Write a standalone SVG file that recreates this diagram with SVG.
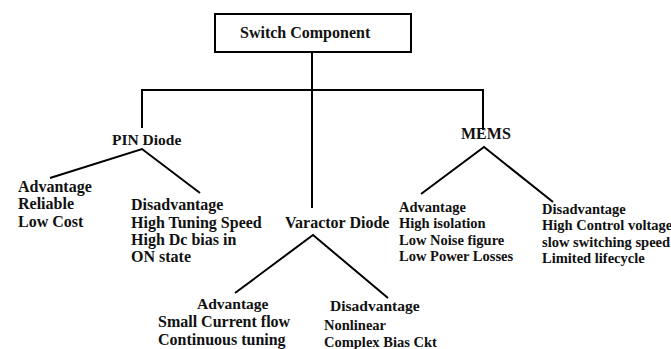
<svg xmlns="http://www.w3.org/2000/svg" width="671" height="349" viewBox="0 0 671 349">
<style>
text{font-family:"Liberation Serif","Times New Roman",serif;font-weight:bold;font-size:16px;fill:#111}
.s{font-size:14.5px}
.m{font-size:15.5px}
.c line,.c polyline{stroke:#000;stroke-width:2;fill:none}
.b{fill:#fff;stroke:#000;stroke-width:2}
</style>
<rect width="671" height="349" fill="#fff"/>
<g class="c" id="connectors">
<line x1="312" y1="52" x2="312" y2="208"/>
<polyline points="142,128 142,90 483,90 483,130"/>
<polyline points="50,178 142,149 200,193"/>
<polyline points="421,194 484,147 553,202"/>
<polyline points="235,293 313,235 388,298"/>
</g>
<g id="root"><rect class="b" x="215" y="14" width="196" height="38"/><text x="240" y="38">Switch Component</text></g>
<g id="pin"><text class="m" x="112" y="145">PIN Diode</text></g>
<g id="mems"><text x="461" y="139">MEMS</text></g>
<g id="varactor"><text x="285" y="228">Varactor Diode</text></g>
<g id="pin-adv"><text x="18" y="192">Advantage</text><text x="18" y="209">Reliable</text><text x="18" y="227">Low Cost</text></g>
<g id="pin-dis"><text x="131" y="210">Disadvantage</text><text x="131" y="228">High Tuning Speed</text><text x="131" y="245">High Dc bias in</text><text x="131" y="262">ON state</text></g>
<g id="mems-adv" class="s"><text class="s" x="399" y="212">Advantage</text><text class="s" x="399" y="228">High isolation</text><text class="s" x="399" y="245">Low Noise figure</text><text class="s" x="399" y="261">Low Power Losses</text></g>
<g id="mems-dis"><text class="s" x="542" y="214">Disadvantage</text><text class="s" x="542" y="230">High Control voltage</text><text class="s" x="542" y="247">slow switching speed</text><text class="s" x="542" y="263">Limited lifecycle</text></g>
<g id="var-adv"><text class="m" x="197" y="309">Advantage</text><text x="158" y="327">Small Current flow</text><text x="158" y="345">Continuous tuning</text></g>
<g id="var-dis"><text class="m" x="330" y="311">Disadvantage</text><text class="s" x="324" y="330">Nonlinear</text><text class="s" x="324" y="347">Complex Bias Ckt</text></g>
</svg>
